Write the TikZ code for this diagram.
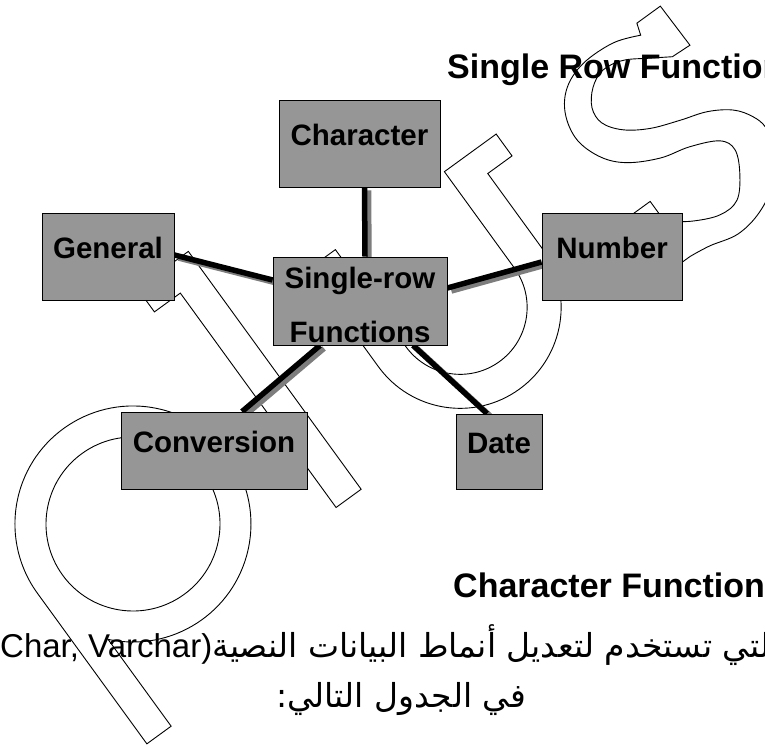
\documentclass[tikz,border=0pt]{standalone}
\usepackage{fontspec}
\setmainfont{Liberation Sans}
\newfontfamily\arabicfont[Script=Arabic]{DejaVu Sans}
\TeXXeTstate=1
\usetikzlibrary{backgrounds}
\definecolor{boxgray}{RGB}{150,150,150}
\definecolor{shadegray}{RGB}{125,125,125}

\begin{document}
\begin{tikzpicture}[x=1pt, y=1pt,
    fnbox/.style={draw=black, line width=0.8pt, fill=boxgray, inner sep=0pt,
        font=\fontsize{29.5}{54}\selectfont\bfseries, text height=20pt, text depth=16pt},
    link/.style={line width=5.5pt, black,
        preaction={draw=shadegray, line width=5.5pt, transform canvas={shift={(4pt,-3pt)}}}},
    wmark/.style={line width=0.9pt, line join=miter}]
    \useasboundingbox (0,0) rectangle (765,749);

    % Function family boxes
    \node[fnbox, minimum width=161, minimum height=87] (chr) at (359.5,605.5) {Character};
    \node[fnbox, minimum width=132, minimum height=87] (gen) at (108,492.5) {General};
    \node[fnbox, minimum width=140, minimum height=87] (num) at (612,492.5) {Number};
    \node[fnbox, minimum width=174, minimum height=88, align=center,
          text height={}, text depth={}] (srf) at (360,448)
        {\rule{0pt}{29pt}Single-row\\Functions};
    \node[fnbox, minimum width=186, minimum height=77] (cnv) at (214,298.5) {Conversion};
    \node[fnbox, minimum width=86, minimum height=75] (dat) at (499,297.5) {Date};

    \begin{scope}[on background layer]
        \clip (0,0) rectangle (765,749);
        % outlined "plus" lettering, set upright and turned as a whole
        \begin{scope}[shift={(133,225)}, rotate=36, wmark]
            % p
            \draw (-88,-186) -- (-88,-78.6) arc[start angle=221.8, end angle=540, radius=118]
                -- (-118,-186) -- cycle;
            \draw (0,0) circle[radius=87];
            % l
            \draw (142,188) -- (205,188) -- (205,-106) -- (174,-106) -- (174,159)
                -- (142,159) -- cycle;
            % u
            \draw (291,103) -- (325,103) -- (325,-17) arc[start angle=180, end angle=360, radius=67]
                -- (459,102) -- (523,102) -- (523,75) -- (493,75) -- (493,-17)
                arc[start angle=0, end angle=-180, radius=101] -- cycle;
            % s
            \draw (702,109) -- (731,109) -- (732,60) -- (711,61)
                -- plot[smooth, tension=0.6] coordinates {(711,61) (692,73) (669,87) (647,91)
                    (629,83) (616,67) (615,49) (628,31) (651,16) (680,5) (707,-4) (729,-18)
                    (741,-35) (745,-52) (740,-78) (720,-100) (690,-116) (660,-121) (630,-114)
                    (608,-111)}
                -- (560,-111) -- (560,-43) -- (608,-43) -- (608,-68)
                -- plot[smooth, tension=0.6] coordinates {(608,-68) (631,-84) (657,-95)
                    (679,-93) (697,-73) (707,-51) (700,-35) (672,-22) (642,-14) (612,2)
                    (594,22) (585,50) (591,78) (608,98) (635,108) (671,107) (698,97)}
                -- cycle;
        \end{scope}

        % Links out of the centre box, each with a grey drop shade
        \draw[link] ([xshift=5pt]chr.south) -- ([xshift=5pt]srf.north);
        \draw[link] ([yshift=1.5pt]gen.east) -- ([yshift=21pt]srf.west);
        \draw[link] ([yshift=13pt]srf.east) -- ([yshift=-5.5pt]num.west);
        \draw[link] ([xshift=-40pt]srf.south) -- ([xshift=28pt]cnv.north);
        \draw[link] ([xshift=53pt]srf.south) -- ([xshift=-12pt]dat.north);
    \end{scope}

    % Headings and the paragraph below the chart
    \node[anchor=base west, inner sep=0pt, font=\fontsize{34}{40}\selectfont\bfseries]
        (title) at (447,670) {Single Row Functions};
    \node[anchor=base west, inner sep=0pt, font=\fontsize{34}{40}\selectfont\bfseries]
        (chfn) at (453,151) {Character Functions};
    \node[anchor=base west, inner sep=0pt, font=\fontsize{33}{40}\selectfont]
        (para1) at (0,91) {Char, Varchar)\arabicfont\beginR الدوال التي تستخدم لتعديل أنماط البيانات النصية\endR};
    \node[anchor=base, inner sep=0pt, font=\fontsize{33}{40}\selectfont]
        (para2) at (401,41) {\arabicfont\beginR في الجدول التالي:\endR};
\end{tikzpicture}
\end{document}
